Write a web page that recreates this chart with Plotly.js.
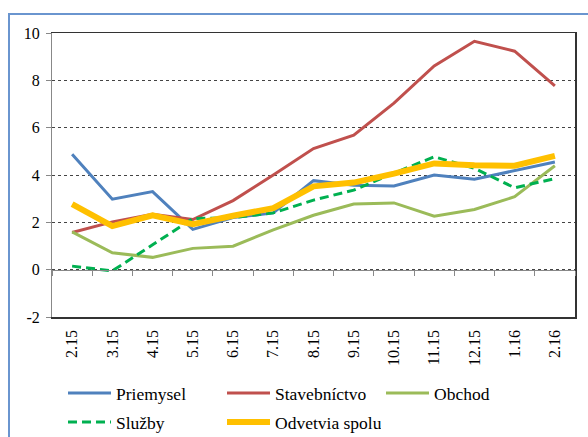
<!DOCTYPE html>
<html>
<head>
<meta charset="utf-8">
<script src="https://cdn.plot.ly/plotly-3.0.1.min.js"></script>
<style>
  html, body { margin: 0; padding: 0; background: #fff; }
  #wrap { position: relative; width: 588px; height: 437px; overflow: hidden; }
  #chart { position: absolute; left: 0; top: 0; width: 588px; height: 437px; }
  #frame { position: absolute; left: 8px; top: 13px; width: 700px; height: 600px;
           border-left: 2px solid #6a95cf; border-top: 2px solid #6a95cf; pointer-events: none; }
</style>
</head>
<body>
<div id="wrap">
  <div id="chart"></div>
  <div id="frame"></div>
</div>
<script>
const categories = ["2.15","3.15","4.15","5.15","6.15","7.15","8.15","9.15","10.15","11.15","12.15","1.16","2.16"];
const priemysel    = [4.88, 2.98, 3.30, 1.70, 2.20, 2.40, 3.76, 3.57, 3.54, 4.00, 3.82, 4.20, 4.55];
const stavebnictvo = [1.57, 2.02, 2.34, 2.12, 2.92, 4.00, 5.12, 5.68, 7.04, 8.61, 9.65, 9.23, 7.77];
const obchod       = [1.60, 0.71, 0.52, 0.90, 0.99, 1.68, 2.30, 2.77, 2.82, 2.26, 2.54, 3.08, 4.39];
const sluzby       = [0.15, -0.05, 1.05, 2.16, 2.20, 2.40, 2.94, 3.36, 4.08, 4.77, 4.28, 3.46, 3.85];
const spolu        = [2.77, 1.84, 2.30, 1.92, 2.28, 2.60, 3.52, 3.68, 4.06, 4.49, 4.41, 4.39, 4.81];
const yTicks = [-2, 0, 2, 4, 6, 8, 10];

const FONT = "Liberation Serif";

const traces = [
  {name: "Priemysel", x: categories, y: priemysel, mode: "lines",
   line: {color: "#4F81BD", width: 3}, legend: "legend"},
  {name: "Stavebníctvo", x: categories, y: stavebnictvo, mode: "lines",
   line: {color: "#C0504D", width: 3}, legend: "legend"},
  {name: "Obchod", x: categories, y: obchod, mode: "lines",
   line: {color: "#9BBB59", width: 3}, legend: "legend"},
  {name: "Služby", x: categories, y: sluzby, mode: "lines",
   line: {color: "#00B050", width: 3, dash: "9px,5px"}, legend: "legend2"},
  {name: "Odvetvia spolu", x: categories, y: spolu, mode: "lines",
   line: {color: "#FFC000", width: 6}, legend: "legend2"},
  {x: categories, y: categories.map(() => null), xaxis: "x2", yaxis: "y2",
   showlegend: false, hoverinfo: "skip", mode: "lines"}
];

const layout = {
  width: 588, height: 437,
  margin: {l: 52, r: 13, t: 33, b: 120},
  paper_bgcolor: "#fff", plot_bgcolor: "#fff",
  font: {family: FONT, size: 16, color: "#000"},
  showlegend: true,
  hovermode: false,
  xaxis: {
    type: "category", categoryorder: "array", categoryarray: categories,
    range: [-0.5, categories.length - 0.5], automargin: false,
    tickangle: -90, ticks: "", showgrid: false, zeroline: false,
    showline: true, linecolor: "#333", linewidth: 1.5, mirror: true,
    tickfont: {family: FONT, size: 16, color: "#000"},
    ticklabelstandoff: 5
  },
  xaxis2: {
    type: "category", categoryorder: "array", categoryarray: categories,
    range: [-0.5, categories.length - 0.5], automargin: false,
    overlaying: "x", anchor: "free", position: 2/12, side: "bottom",
    tickson: "boundaries", ticks: "outside", ticklen: 5, tickcolor: "#888",
    showticklabels: false, showgrid: false, zeroline: false,
    showline: true, linecolor: "#888", linewidth: 1
  },
  yaxis: {
    range: [-2, 10], tickmode: "array", tickvals: yTicks, automargin: false,
    ticktext: yTicks.map(String),
    ticks: "outside", ticklen: 5, tickcolor: "#888",
    showline: true, linecolor: "#888", linewidth: 1,
    showgrid: true, gridcolor: "#444", griddash: "dot", gridwidth: 1,
    zeroline: false, ticklabelstandoff: 3,
    tickfont: {family: FONT, size: 16, color: "#000"}
  },
  yaxis2: {
    range: [-2, 10], overlaying: "y", side: "right", anchor: "x", automargin: false,
    showline: true, linecolor: "#333", linewidth: 1.5,
    showticklabels: false, showgrid: false, zeroline: false, ticks: ""
  },
  legend: {
    orientation: "h", xref: "container", yref: "container",
    x: 63/588, xanchor: "left", y: 1 - 375/437, yanchor: "top",
    itemwidth: 43, entrywidth: 101, entrywidthmode: "pixels",
    font: {family: FONT, size: 17.5, color: "#000"}, bgcolor: "rgba(0,0,0,0)"
  },
  legend2: {
    orientation: "h", xref: "container", yref: "container",
    x: 63/588, xanchor: "left", y: 1 - 404/437, yanchor: "top",
    itemwidth: 43, entrywidth: 101, entrywidthmode: "pixels",
    font: {family: FONT, size: 17.5, color: "#000"}, bgcolor: "rgba(0,0,0,0)"
  }
};

Plotly.newPlot("chart", traces, layout, {displayModeBar: false, staticPlot: true});
</script>
</body>
</html>
